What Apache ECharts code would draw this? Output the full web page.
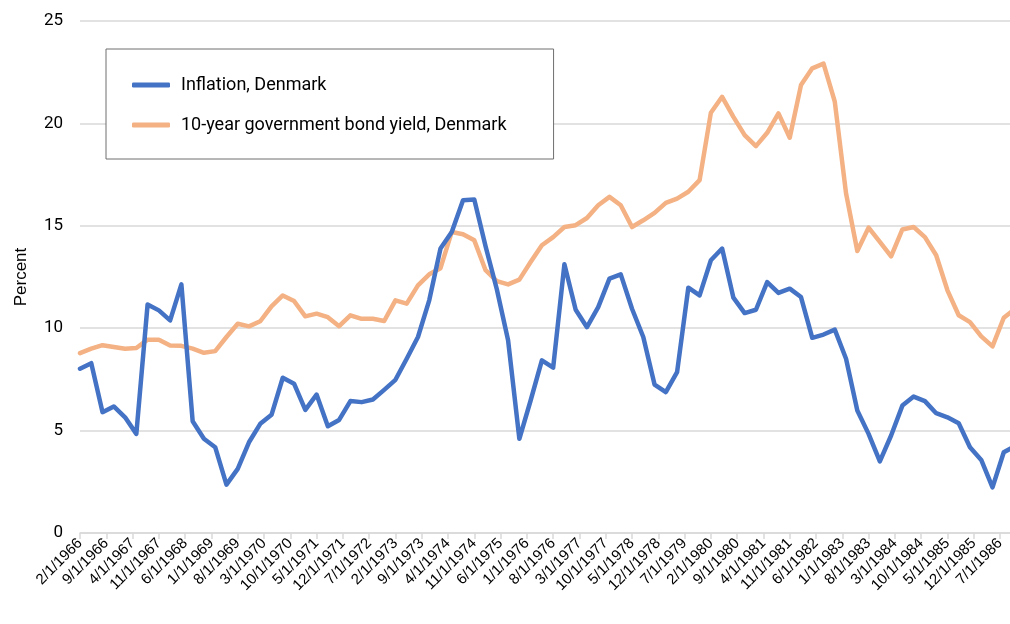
<!DOCTYPE html>
<html>
<head>
<meta charset="utf-8">
<script src="https://cdn.jsdelivr.net/npm/echarts@6/dist/echarts.min.js"></script>
<style>
html,body{margin:0;padding:0;background:#fff;}
#chart{width:1010px;height:624px;}
</style>
</head>
<body>
<div id="chart"></div>
<script>
// Quarterly observations starting 2/1/1966 (month offsets from Feb 1966)
var startYear = 1966;
var startMonth = 2;
var stepMonths = 3;

var seriesNames = ["Inflation, Denmark", "10-year government bond yield, Denmark"];

var inflation = [
  8.02, 8.29, 5.90, 6.18, 5.65, 4.84, 11.16, 10.87, 10.38, 12.14,
  5.46, 4.60, 4.19, 2.36, 3.13, 4.43, 5.33, 5.77, 7.58, 7.29,
  6.01, 6.76, 5.21, 5.52, 6.44, 6.39, 6.52, 6.99, 7.48, 8.51,
  9.57, 11.36, 13.89, 14.70, 16.25, 16.28, 14.00, 11.90, 9.41, 4.60,
  6.47, 8.43, 8.07, 13.12, 10.90, 10.05, 11.03, 12.42, 12.63, 10.95,
  9.57, 7.25, 6.88, 7.85, 11.98, 11.60, 13.32, 13.89, 11.49, 10.74,
  10.90, 12.25, 11.72, 11.93, 11.52, 9.53, 9.69, 9.93, 8.51, 5.98,
  4.84, 3.50, 4.76, 6.22, 6.66, 6.44, 5.85, 5.65, 5.36, 4.19,
  3.57, 2.23, 3.94, 4.25
];

var bondYield = [
  8.78, 9.00, 9.17, 9.08, 9.00, 9.03, 9.44, 9.44, 9.16, 9.14,
  9.00, 8.80, 8.88, 9.57, 10.22, 10.09, 10.34, 11.07, 11.60, 11.33,
  10.58, 10.71, 10.54, 10.10, 10.63, 10.46, 10.46, 10.35, 11.36, 11.20,
  12.09, 12.63, 12.93, 14.70, 14.59, 14.29, 12.83, 12.30, 12.14, 12.37,
  13.23, 14.05, 14.45, 14.94, 15.03, 15.38, 16.00, 16.41, 16.00, 14.94,
  15.27, 15.63, 16.12, 16.33, 16.66, 17.23, 20.52, 21.30, 20.32, 19.43,
  18.89, 19.54, 20.49, 19.30, 21.87, 22.69, 22.92, 21.06, 16.58, 13.77,
  14.91, 14.21, 13.51, 14.82, 14.94, 14.45, 13.56, 11.85, 10.63, 10.30,
  9.60, 9.11, 10.51, 10.95
];

var yTicks = [0, 5, 10, 15, 20, 25];
var xLabelStepMonths = 7;
// visible axis window ends a little after the 7/1/1986 tick (picture is cropped there)
var xVisibleMax = 247.66;

function monthLabel(m) {
  var total = (startMonth - 1) + m;
  var mo = (total % 12) + 1;
  var yr = startYear + Math.floor(total / 12);
  return mo + "/1/" + yr;
}

function pairs(vals) {
  return vals.map(function (v, i) { return [i * stepMonths, v]; });
}

var chart = echarts.init(document.getElementById('chart'), null, {renderer: 'canvas'});
chart.setOption({
  backgroundColor: '#ffffff',
  animation: false,
  grid: {left: 80, top: 21, right: 0, bottom: 91, containLabel: false},
  legend: {
    data: seriesNames,
    orient: 'vertical',
    left: 106,
    top: 49,
    padding: [27, 47, 25, 26],
    itemGap: 22,
    itemWidth: 38,
    itemHeight: 5,
    icon: 'roundRect',
    borderColor: '#6e6e6e',
    borderWidth: 1,
    backgroundColor: '#ffffff',
    textStyle: {fontFamily: 'Roboto', fontSize: 18, color: '#000', padding: [0, 0, 0, 6]}
  },
  xAxis: {
    type: 'value',
    min: 0,
    max: xVisibleMax,
    interval: xLabelStepMonths,
    splitLine: {show: false},
    axisLine: {show: true, lineStyle: {color: '#d9d9d9', width: 1.5}},
    axisTick: {show: true, length: 6, lineStyle: {color: '#d9d9d9', width: 1.5}},
    axisLabel: {
      rotate: 45,
      margin: 8,
      fontFamily: 'Liberation Sans',
      fontSize: 15,
      color: '#000',
      showMaxLabel: false,
      formatter: function (v) { return (v % xLabelStepMonths === 0) ? monthLabel(v) : ''; }
    }
  },
  yAxis: {
    type: 'value',
    min: yTicks[0],
    max: yTicks[yTicks.length - 1],
    interval: yTicks[1] - yTicks[0],
    name: 'Percent',
    nameLocation: 'middle',
    nameGap: 50,
    nameRotate: 90,
    nameTextStyle: {fontFamily: 'Liberation Sans', fontSize: 17, color: '#000'},
    axisLine: {show: false},
    axisTick: {show: false},
    axisLabel: {fontFamily: 'Roboto', fontSize: 17, color: '#000', margin: 17},
    splitLine: {show: true, lineStyle: {color: '#d9d9d9', width: 1.5}}
  },
  series: [
    {
      name: seriesNames[0],
      type: 'line',
      z: 3,
      data: pairs(inflation),
      symbol: 'none',
      smooth: false,
      color: '#4472C4',
      lineStyle: {color: '#4472C4', width: 4.5, cap: 'round', join: 'round'}
    },
    {
      name: seriesNames[1],
      type: 'line',
      z: 2,
      data: pairs(bondYield),
      symbol: 'none',
      smooth: false,
      color: '#F4B183',
      lineStyle: {color: '#F4B183', width: 4.5, cap: 'round', join: 'round'}
    }
  ]
});
</script>
</body>
</html>
